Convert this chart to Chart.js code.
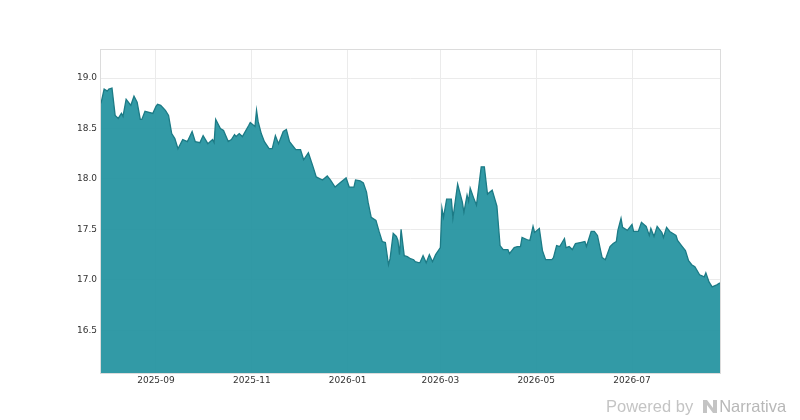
<!DOCTYPE html>
<html>
<head>
<meta charset="utf-8">
<script src="https://cdn.jsdelivr.net/npm/chart.js@4.4.1/dist/chart.umd.min.js"></script>
<style>
  html, body { margin: 0; padding: 0; background: #fff; }
  #wrap { position: relative; width: 800px; height: 420px; }
  #credit {
    position: absolute; left: 606px; top: 397px;
    font-family: "Liberation Sans", Arial, sans-serif; font-size: 16.5px;
    color: #c4c4c4; white-space: nowrap; display: flex; align-items: center;
  }
  #credit svg { margin: 0 2px 0 10px; }
  #credit b { font-weight: normal; color: #b8b8b8; }
</style>
</head>
<body>
<div id="wrap">
  <canvas id="priceChart" width="800" height="420"></canvas>
  <div id="credit">Powered by
    <svg width="14" height="13" viewBox="0 0 14 13"><path d="M0 0h4l6 8V0h4v13h-4L4 5v8H0z" fill="#c4c4c4"/></svg><b>Narrativa</b>
  </div>
</div>
<script>
// Daily closing prices
const dates = [
  "2025-07-28","2025-07-30","2025-08-01","2025-08-02","2025-08-04","2025-08-06","2025-08-08","2025-08-10","2025-08-11","2025-08-13",
  "2025-08-16","2025-08-18","2025-08-20","2025-08-22","2025-08-23","2025-08-25","2025-08-30","2025-09-01","2025-09-02","2025-09-04",
  "2025-09-07","2025-09-09","2025-09-11","2025-09-13","2025-09-15","2025-09-18","2025-09-21","2025-09-24","2025-09-26","2025-09-29",
  "2025-10-01","2025-10-04","2025-10-07","2025-10-08","2025-10-09","2025-10-12","2025-10-14","2025-10-17","2025-10-19","2025-10-21",
  "2025-10-22","2025-10-24","2025-10-26","2025-10-30","2025-10-31","2025-11-03","2025-11-04","2025-11-05","2025-11-07","2025-11-09",
  "2025-11-12","2025-11-14","2025-11-16","2025-11-18","2025-11-21","2025-11-23","2025-11-25","2025-11-29","2025-12-02","2025-12-04",
  "2025-12-07","2025-12-10","2025-12-12","2025-12-16","2025-12-19","2025-12-21","2025-12-24","2025-12-27","2025-12-31","2026-01-02",
  "2026-01-05","2026-01-06","2026-01-09","2026-01-11","2026-01-13","2026-01-14","2026-01-16","2026-01-19","2026-01-21","2026-01-23",
  "2026-01-25","2026-01-27","2026-01-28","2026-01-30","2026-02-01","2026-02-02","2026-02-03","2026-02-04","2026-02-06","2026-02-08",
  "2026-02-10","2026-02-12","2026-02-13","2026-02-15","2026-02-16","2026-02-18","2026-02-20","2026-02-22","2026-02-24","2026-02-26",
  "2026-03-01","2026-03-02","2026-03-03","2026-03-05","2026-03-08","2026-03-09","2026-03-12","2026-03-15","2026-03-16","2026-03-18",
  "2026-03-19","2026-03-20","2026-03-22","2026-03-24","2026-03-27","2026-03-29","2026-03-31","2026-04-03","2026-04-06","2026-04-08",
  "2026-04-10","2026-04-13","2026-04-14","2026-04-17","2026-04-19","2026-04-21","2026-04-22","2026-04-25","2026-04-27","2026-04-29",
  "2026-04-30","2026-05-03","2026-05-05","2026-05-07","2026-05-11","2026-05-12","2026-05-14","2026-05-16","2026-05-19","2026-05-20",
  "2026-05-22","2026-05-24","2026-05-26","2026-05-29","2026-06-01","2026-06-02","2026-06-05","2026-06-07","2026-06-09","2026-06-11",
  "2026-06-12","2026-06-14","2026-06-17","2026-06-19","2026-06-21","2026-06-22","2026-06-24","2026-06-25","2026-06-28","2026-07-01",
  "2026-07-02","2026-07-05","2026-07-07","2026-07-10","2026-07-12","2026-07-13","2026-07-15","2026-07-17","2026-07-20","2026-07-21",
  "2026-07-23","2026-07-25","2026-07-29","2026-07-30","2026-08-02","2026-08-04","2026-08-06","2026-08-08","2026-08-10","2026-08-13",
  "2026-08-16","2026-08-17","2026-08-19","2026-08-21","2026-08-24","2026-08-26"
];

const prices = [
  18.75, 18.89, 18.87, 18.89, 18.90, 18.63, 18.60, 18.65, 18.62, 18.79,
  18.73, 18.82, 18.76, 18.59, 18.59, 18.67, 18.65, 18.72, 18.74, 18.73,
  18.68, 18.63, 18.45, 18.40, 18.30, 18.39, 18.37, 18.47, 18.37, 18.36,
  18.43, 18.35, 18.39, 18.36, 18.59, 18.50, 18.48, 18.37, 18.39, 18.44,
  18.42, 18.45, 18.42, 18.53, 18.56, 18.52, 18.68, 18.57, 18.45, 18.37,
  18.30, 18.30, 18.43, 18.35, 18.47, 18.49, 18.37, 18.29, 18.29, 18.19,
  18.26, 18.12, 18.02, 17.99, 18.03, 17.99, 17.92, 17.96, 18.01, 17.92,
  17.92, 17.99, 17.98, 17.96, 17.87, 17.77, 17.62, 17.59, 17.48, 17.38,
  17.37, 17.15, 17.21, 17.46, 17.43, 17.39, 17.25, 17.50, 17.24, 17.23,
  17.21, 17.20, 17.18, 17.17, 17.17, 17.24, 17.17, 17.25, 17.18, 17.25,
  17.32, 17.71, 17.62, 17.80, 17.80, 17.61, 17.95, 17.77, 17.67, 17.84,
  17.78, 17.91, 17.82, 17.74, 18.12, 18.12, 17.85, 17.89, 17.73, 17.34,
  17.30, 17.30, 17.26, 17.32, 17.33, 17.33, 17.42, 17.40, 17.39, 17.53,
  17.47, 17.51, 17.29, 17.20, 17.20, 17.22, 17.34, 17.33, 17.41, 17.32,
  17.33, 17.30, 17.36, 17.37, 17.38, 17.33, 17.48, 17.48, 17.44, 17.29,
  17.22, 17.20, 17.33, 17.36, 17.38, 17.49, 17.61, 17.52, 17.49, 17.55,
  17.48, 17.48, 17.57, 17.53, 17.44, 17.51, 17.43, 17.53, 17.47, 17.42,
  17.52, 17.48, 17.44, 17.39, 17.33, 17.29, 17.19, 17.15, 17.13, 17.05,
  17.03, 17.07, 16.98, 16.93, 16.95, 16.97
];

const xTickLabels = ["2025-09", "2025-11", "2026-01", "2026-03", "2026-05", "2026-07"];
const yTickValues = [16.5, 17.0, 17.5, 18.0, 18.5, 19.0];

function toTime(s) {
  const p = s.split("-").map(Number);
  return Date.UTC(p[0], p[1] - 1, p[2] || 1);
}

const points = dates.map((d, i) => ({ x: toTime(d), y: prices[i] }));

// light frame round the plot area
const framePlugin = {
  id: "frame",
  beforeDatasetsDraw(chart) {
    const a = chart.chartArea, c = chart.ctx;
    c.save();
    c.strokeStyle = "#dcdcdc";
    c.lineWidth = 1;
    c.strokeRect(a.left - 0.5, a.top - 0.5, a.right - a.left + 1, a.bottom - a.top + 1);
    c.restore();
  }
};

const ctx = document.getElementById("priceChart").getContext("2d");
new Chart(ctx, {
  type: "line",
  data: {
    datasets: [{
      data: points,
      borderColor: "#1c7b86",
      borderWidth: 1.3,
      backgroundColor: "rgba(33,145,158,0.92)",
      fill: "start",
      pointRadius: 0,
      tension: 0
    }]
  },
  options: {
    responsive: false,
    animation: false,
    layout: { padding: { left: 0, right: 80, top: 50, bottom: 0 } },
    plugins: { legend: { display: false }, tooltip: { enabled: false } },
    scales: {
      x: {
        type: "linear",
        min: toTime(dates[0]),
        max: toTime(dates[dates.length - 1]),
        afterBuildTicks: (scale) => {
          scale.ticks = xTickLabels.map(l => ({ value: toTime(l) }));
        },
        afterFit: (scale) => { scale.height = 47; },
        ticks: {
          autoSkip: false,
          maxRotation: 0,
          padding: 2,
          color: "#333",
          font: { family: "DejaVu Sans", size: 9 },
          callback: (v) => {
            const d = new Date(v);
            return d.getUTCFullYear() + "-" + String(d.getUTCMonth() + 1).padStart(2, "0");
          }
        },
        grid: { color: "#ebebeb", drawTicks: false },
        border: { display: false }
      },
      y: {
        min: 16.077,
        max: 19.278,
        afterBuildTicks: (scale) => {
          scale.ticks = yTickValues.map(v => ({ value: v }));
        },
        afterFit: (scale) => { scale.width = 101; },
        ticks: {
          padding: 4,
          color: "#333",
          font: { family: "DejaVu Sans", size: 9 },
          callback: (v) => v.toFixed(1)
        },
        grid: { color: "#ebebeb", drawTicks: false },
        border: { display: false }
      }
    }
  },
  plugins: [framePlugin]
});
</script>
</body>
</html>
